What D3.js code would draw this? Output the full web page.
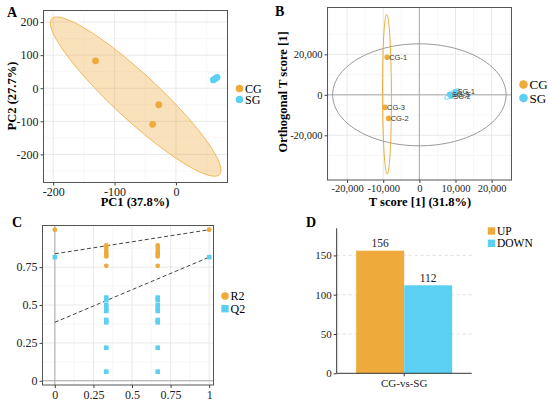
<!DOCTYPE html>
<html><head><meta charset="utf-8">
<script src="https://cdn.jsdelivr.net/npm/d3@7"></script>
<style>body{margin:0;background:#fff}svg{display:block}</style>
</head><body>
<svg id="c" width="550" height="403"></svg>
<script>
// ---------- DATA ----------
const groups = ["CG", "SG"];
// Panel A: PCA scores
const pcaCG = [[-131, 83], [-28, -50], [-38, -109]];
const pcaSG = [[61, 25], [64, 29], [67, 33]];
const pcaXTicks = [-200, -100, 0];
const pcaYTicks = [-200, -100, 0, 100, 200];
// Panel B: OPLS-DA scores
const oplsNames = ["CG-1", "CG-2", "CG-3", "SG-1", "SG-2", "SG-3"];
const oplsCG = [[-8900, 18600], [-8500, -11650], [-9500, -6220]];
const oplsSG = [[10000, 1500], [8800, -600], [8400, 200]];
const hotellingRadii = [24000, 25200];
const oplsXTicks = [-20000, -10000, 0, 10000, 20000];
const oplsYTicks = [-20000, 0, 20000];
// Panel C: permutation test
const permX = [0, 1/3, 2/3, 1];
const permR2 = [[0.997], [0.893, 0.876, 0.858, 0.843, 0.832, 0.821, 0.759], [0.893, 0.876, 0.858, 0.843, 0.832, 0.821, 0.759], [0.997]];
const permQ2 = [[0.816], [0.549, 0.534, 0.501, 0.479, 0.461, 0.401, 0.386, 0.218, 0.060], [0.549, 0.534, 0.501, 0.479, 0.461, 0.401, 0.386, 0.218, 0.060], [0.816]];
const permIntercepts = {R2: 0.838, Q2: 0.386};
const permXTicks = [0, 0.25, 0.5, 0.75, 1];
const permYTicks = [0, 0.25, 0.5, 0.75];
// Panel D: differential metabolites
const comparisons = ["CG-vs-SG"];
const directions = ["UP", "DOWN"];
const counts = [156, 112];
const barYTicks = [0, 50, 100, 150];

// ---------- STYLE ----------
const ORANGE = "#EFAA3C", BLUE = "#5CD0F2";
const SERIF = "'Liberation Serif','Times New Roman',serif";
const SANS = "'Liberation Sans',Arial,sans-serif";
const svg = d3.select("#c");

function fmtComma(v){ return d3.format(",")(v).replace("−","-"); }
function fmtPlain(v){ return String(v); }

function panel(o){
  const g = svg.append("g");
  const x = d3.scaleLinear().domain(o.xd).range([o.x0, o.x1]);
  const y = d3.scaleLinear().domain(o.yd).range([o.y1, o.y0]);
  const minors = (ticks, dom) => {
    const step = ticks[1]-ticks[0]; const out=[];
    for (let v = ticks[0]-step*4 + step/2; v <= dom[1]; v += step) if (v>=dom[0]) out.push(v);
    return out;
  };
  const majX = o.xt, majY = o.yt;
  g.selectAll(".mnx").data(minors(o.xt, o.xd)).join("line")
    .attr("x1", d=>x(d)).attr("x2", d=>x(d)).attr("y1", o.y0).attr("y2", o.y1)
    .attr("stroke", "#f2f2f2").attr("stroke-width", 0.6);
  g.selectAll(".mny").data(minors(o.yt, o.yd)).join("line")
    .attr("y1", d=>y(d)).attr("y2", d=>y(d)).attr("x1", o.x0).attr("x2", o.x1)
    .attr("stroke", "#f2f2f2").attr("stroke-width", 0.6);
  g.selectAll(".mjx").data(majX).join("line")
    .attr("x1", d=>x(d)).attr("x2", d=>x(d)).attr("y1", o.y0).attr("y2", o.y1)
    .attr("stroke", "#e6e6e6").attr("stroke-width", 0.9);
  g.selectAll(".mjy").data(majY).join("line")
    .attr("y1", d=>y(d)).attr("y2", d=>y(d)).attr("x1", o.x0).attr("x2", o.x1)
    .attr("stroke", "#e6e6e6").attr("stroke-width", 0.9);
  if (o.cross){
    g.append("line").attr("x1", x(0)).attr("x2", x(0)).attr("y1", o.y0).attr("y2", o.y1).attr("stroke", "#aaa").attr("stroke-width", 1);
    g.append("line").attr("y1", y(0)).attr("y2", y(0)).attr("x1", o.x0).attr("x2", o.x1).attr("stroke", "#aaa").attr("stroke-width", 1);
  }
  const content = g.append("g");
  g.append("rect").attr("x", o.x0).attr("y", o.y0).attr("width", o.x1-o.x0).attr("height", o.y1-o.y0)
    .attr("fill", "none").attr("stroke", "#555").attr("stroke-width", 1);
  const fmt = o.fmt || fmtPlain;
  const ax = g.append("g").attr("transform", `translate(0,${o.y1})`)
    .call(d3.axisBottom(x).tickValues(o.xt).tickSize(3).tickPadding(2).tickFormat(fmt));
  const ay = g.append("g").attr("transform", `translate(${o.x0},0)`)
    .call(d3.axisLeft(y).tickValues(o.yt).tickSize(3).tickPadding(2).tickFormat(fmt));
  [ax, ay].forEach(a => {
    a.attr("font-family", null).style("font-family", SERIF);
    a.select(".domain").remove();
    a.selectAll("line").attr("stroke", "#444");
    a.selectAll("text").style("font-family", SERIF).style("font-size", o.fs + "px").attr("fill", "#222");
  });
  return {g: content, x, y};
}

function covEllipse(pts, x, y){
  const n = pts.length, k = Math.sqrt(-2*Math.log(0.05));
  const mx = d3.mean(pts, p=>p[0]), my = d3.mean(pts, p=>p[1]);
  let sxx=0, syy=0, sxy=0;
  pts.forEach(p=>{ sxx+=(p[0]-mx)**2; syy+=(p[1]-my)**2; sxy+=(p[0]-mx)*(p[1]-my); });
  sxx/=(n-1); syy/=(n-1); sxy/=(n-1);
  const tr = sxx+syy, det = sxx*syy-sxy*sxy, disc = Math.sqrt(tr*tr/4-det);
  const l1 = tr/2+disc, l2 = tr/2-disc;
  let vx = sxy, vy = l1-sxx;
  if (Math.abs(vx)<1e-12 && Math.abs(vy)<1e-12){ vx = sxx>=syy?1:0; vy = sxx>=syy?0:1; }
  const vn = Math.hypot(vx, vy); vx/=vn; vy/=vn;
  const a = k*Math.sqrt(l1), b = k*Math.sqrt(Math.max(l2,0));
  const ring = d3.range(0, 361, 3).map(t => {
    const th = t*Math.PI/180, c = Math.cos(th)*a, s = Math.sin(th)*b;
    return [x(mx + c*vx - s*vy), y(my + c*vy + s*vx)];
  });
  return d3.line()(ring) + "Z";
}

// ---------- PANEL A ----------
{
  const p = panel({x0:43.5, x1:227.5, y0:10.5, y1:182.5, xd:[-215.8, 84], yd:[-285, 235],
    xt: pcaXTicks, yt: pcaYTicks, fs: 12});
  p.g.append("path").attr("d", covEllipse(pcaCG, p.x, p.y))
    .attr("fill", ORANGE).attr("fill-opacity", 0.35).attr("stroke", ORANGE).attr("stroke-opacity", 0.8).attr("stroke-width", 1);
  [[pcaCG, ORANGE], [pcaSG, BLUE]].forEach(([pts, col]) => {
    p.g.selectAll(null).data(pts).join("circle")
      .attr("cx", d=>p.x(d[0])).attr("cy", d=>p.y(d[1])).attr("r", 3.4).attr("fill", col);
  });
  svg.append("text").attr("x", 135).attr("y", 206).attr("text-anchor", "middle")
    .attr("font-family", SERIF).attr("font-weight", "bold").attr("font-size", 12.5).text("PC1 (37.8%)");
  svg.append("text").attr("transform", "translate(16,96) rotate(-90)").attr("text-anchor", "middle")
    .attr("font-family", SERIF).attr("font-weight", "bold").attr("font-size", 12.5).text("PC2 (27.7%)");
  groups.forEach((gname, i) => {
    svg.append("circle").attr("cx", 239.5).attr("cy", 88.5 + i*11).attr("r", 3.8).attr("fill", i ? BLUE : ORANGE);
    svg.append("text").attr("x", 245).attr("y", 92.5 + i*11).attr("font-family", SERIF).attr("font-size", 12).text(gname);
  });
}

// ---------- PANEL B ----------
{
  const p = panel({x0:327.5, x1:511.5, y0:7.5, y1:180, xd:[-25420, 25500], yd:[-42100, 43160],
    xt: oplsXTicks, yt: oplsYTicks, fs: 10.5, fmt: fmtComma, cross: true});
  const ring = d3.range(0, 361, 3).map(t => [p.x(hotellingRadii[0]*Math.cos(t*Math.PI/180)), p.y(hotellingRadii[1]*Math.sin(t*Math.PI/180))]);
  p.g.append("path").attr("d", d3.line()(ring)+"Z").attr("fill", "none").attr("stroke", "#999").attr("stroke-width", 1);
  p.g.append("path").attr("d", covEllipse(oplsCG, p.x, p.y)).attr("fill", "none").attr("stroke", ORANGE).attr("stroke-width", 1);
  p.g.append("path").attr("d", covEllipse(oplsSG, p.x, p.y)).attr("fill", "none").attr("stroke", BLUE).attr("stroke-width", 1);
  const all = oplsCG.map((d,i)=>({d, col: ORANGE, name: oplsNames[i]}))
    .concat(oplsSG.map((d,i)=>({d, col: BLUE, name: oplsNames[3+i]})));
  p.g.selectAll(null).data(all).join("circle")
    .attr("cx", e=>p.x(e.d[0])).attr("cy", e=>p.y(e.d[1])).attr("r", 2.8).attr("fill", e=>e.col);
  p.g.selectAll(null).data(all).join("text")
    .attr("x", e=>p.x(e.d[0])+2).attr("y", e=>p.y(e.d[1])+2.5)
    .attr("font-family", SANS).attr("font-size", 7.5).attr("fill", "#333").text(e=>e.name);
  svg.append("text").attr("x", 420).attr("y", 206).attr("text-anchor", "middle")
    .attr("font-family", SERIF).attr("font-weight", "bold").attr("font-size", 12.5).text("T score [1] (31.8%)");
  svg.append("text").attr("transform", "translate(287,92) rotate(-90)").attr("text-anchor", "middle")
    .attr("font-family", SERIF).attr("font-weight", "bold").attr("font-size", 12.5).text("Orthogonal T score [1]");
  groups.forEach((gname, i) => {
    svg.append("circle").attr("cx", 523.5).attr("cy", 84.5 + i*13.5).attr("r", 4.3).attr("fill", i ? BLUE : ORANGE);
    svg.append("text").attr("x", 529.5).attr("y", 89 + i*13.5).attr("font-family", SERIF).attr("font-size", 13).text(gname);
  });
}

// ---------- PANEL C ----------
{
  const p = panel({x0:42.5, x1:213.5, y0:225.5, y1:385, xd:[-0.08, 1.028], yd:[-0.028, 1.025],
    xt: permXTicks, yt: permYTicks, fs: 12, cross: true});
  const line = d3.line().x(d=>p.x(d[0])).y(d=>p.y(d[1]));
  const xs = d3.extent(permX);
  [["R2", permR2], ["Q2", permQ2]].forEach(([key, vals]) => {
    p.g.append("path").attr("d", line([[xs[0], permIntercepts[key]], [xs[1], vals[vals.length-1][0]]]))
      .attr("stroke", "#444").attr("stroke-width", 1).attr("stroke-dasharray", "4,2.5").attr("fill", "none");
  });
  const r2pts = permX.flatMap((xv,i)=>permR2[i].map(v=>[xv,v]));
  const q2pts = permX.flatMap((xv,i)=>permQ2[i].map(v=>[xv,v]));
  p.g.selectAll(null).data(q2pts).join("rect")
    .attr("x", d=>p.x(d[0])-2.3).attr("y", d=>p.y(d[1])-2.3).attr("width", 4.6).attr("height", 4.6).attr("fill", BLUE);
  p.g.selectAll(null).data(r2pts).join("circle")
    .attr("cx", d=>p.x(d[0])).attr("cy", d=>p.y(d[1])).attr("r", 2.4).attr("fill", ORANGE);
  svg.append("circle").attr("cx", 225).attr("cy", 296).attr("r", 3.8).attr("fill", ORANGE);
  svg.append("rect").attr("x", 221.3).attr("y", 305).attr("width", 7.4).attr("height", 7.4).attr("fill", BLUE);
  ["R2", "Q2"].forEach((t,i)=> svg.append("text").attr("x", 230.5).attr("y", 300 + i*12.5)
    .attr("font-family", SERIF).attr("font-size", 12).text(t));
}

// ---------- PANEL D ----------
{
  const X0 = 336.7, X1 = 471.7, Y0 = 228.3, Y1 = 373.3;
  const y = d3.scaleLinear().domain([0, 184.5]).range([Y1, Y0]);
  const xb = d3.scaleBand().domain(comparisons).range([X0, X1]).paddingInner(0).paddingOuter(0.203);
  const xi = d3.scaleBand().domain(directions).range([0, xb.bandwidth()]);
  const g = svg.append("g");
  g.selectAll(null).data(barYTicks.filter(v=>v>0)).join("line")
    .attr("x1", X0).attr("x2", X1).attr("y1", d=>y(d)).attr("y2", d=>y(d))
    .attr("stroke", "#d9d9d9").attr("stroke-width", 0.8).attr("stroke-dasharray", "3,3");
  const rows = directions.map((d,i)=>({dir: d, cmp: comparisons[0], v: counts[i], col: i ? BLUE : ORANGE}));
  g.selectAll(null).data(rows).join("rect")
    .attr("x", r=>xb(r.cmp)+xi(r.dir)).attr("width", xi.bandwidth())
    .attr("y", r=>y(r.v)).attr("height", r=>Y1-y(r.v)).attr("fill", r=>r.col);
  g.selectAll(null).data(rows).join("text")
    .attr("x", r=>xb(r.cmp)+xi(r.dir)+xi.bandwidth()/2).attr("y", r=>y(r.v)-3.5)
    .attr("text-anchor", "middle").attr("font-family", SERIF).attr("font-size", 11.5).attr("fill", "#222").text(r=>r.v);
  const ay = g.append("g").attr("transform", `translate(${X0},0)`).call(d3.axisLeft(y).tickValues(barYTicks).tickSize(3).tickPadding(2));
  const ax = g.append("g").attr("transform", `translate(0,${Y1})`).call(d3.axisBottom(xb).tickSize(3).tickPadding(3).tickSizeOuter(0));
  ay.select(".domain").attr("d", `M-0,${Y0}V${Y1}`);
  [ax, ay].forEach(a => {
    a.attr("font-family", null).style("font-family", SERIF);
    a.selectAll("line, .domain").attr("stroke", "#333");
    a.selectAll("text").style("font-family", SERIF).style("font-size", "11px").attr("fill", "#222");
  });
  ax.select(".domain").attr("d", `M${X0},0H${X1}`);
  directions.forEach((d,i)=>{
    svg.append("rect").attr("x", 487.8).attr("y", 227.3 + i*12.3).attr("width", 7.4).attr("height", 7.4).attr("fill", i ? BLUE : ORANGE);
    svg.append("text").attr("x", 497).attr("y", 234.5 + i*12.3).attr("font-family", SERIF).attr("font-size", 11.5).text(d);
  });
}

// ---------- PANEL LETTERS ----------
[["A", 7, 17], ["B", 275, 16], ["C", 12, 227], ["D", 306, 227]].forEach(([t, x, yy]) =>
  svg.append("text").attr("x", x).attr("y", yy).attr("font-family", SERIF).attr("font-weight", "bold").attr("font-size", 14).text(t));
</script>
</body></html>
